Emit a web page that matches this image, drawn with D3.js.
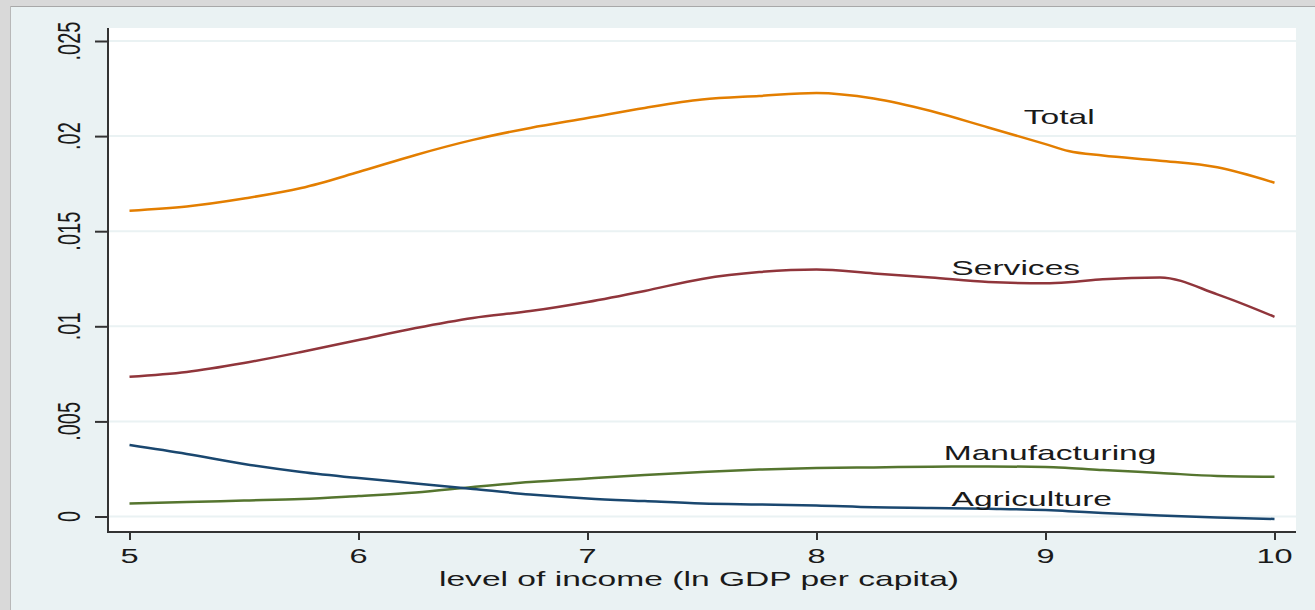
<!DOCTYPE html>
<html>
<head>
<meta charset="utf-8">
<script src="https://cdn.jsdelivr.net/npm/d3@7"></script>
<style>
    body { margin: 0; padding: 0; background: #eaf2f3; }
    text { font-family: "Liberation Sans", Arial, sans-serif; fill: #1a1a1a; }
</style>
</head>
<body>
<div id="chart"></div>
<script>
'use strict';

// values (x = ln GDP per capita)
const incomeLevels = [5.0, 5.25, 5.5, 5.75, 6.0, 6.25, 6.5, 6.75, 7.0, 7.25, 7.5, 7.75, 8.0, 8.25, 8.5, 8.75, 9.0, 9.1, 9.25, 9.5, 9.75, 10.0];

const totalValues = [0.01608, 0.01630, 0.01672, 0.01727, 0.01811, 0.01901, 0.01980, 0.02043, 0.02095, 0.02148, 0.02192, 0.02211, 0.02227, 0.02198, 0.02132, 0.02045, 0.01958, 0.01922, 0.01898, 0.01871, 0.01836, 0.01755];
const servicesValues = [0.00735, 0.00760, 0.00807, 0.00865, 0.00928, 0.00991, 0.01044, 0.01080, 0.01128, 0.01186, 0.01249, 0.01285, 0.01299, 0.01278, 0.01257, 0.01233, 0.01226, 0.01231, 0.01248, 0.01257, 0.01168, 0.01050];
const manufacturingValues = [0.00069, 0.00076, 0.00084, 0.00092, 0.00108, 0.00126, 0.00155, 0.00181, 0.00200, 0.00218, 0.00234, 0.00247, 0.00255, 0.00258, 0.00262, 0.00263, 0.00260, 0.00255, 0.00244, 0.00229, 0.00213, 0.00209];
const agricultureValues = [0.00376, 0.00329, 0.00276, 0.00234, 0.00202, 0.00174, 0.00145, 0.00116, 0.00095, 0.00081, 0.00068, 0.00063, 0.00058, 0.00048, 0.00045, 0.00041, 0.00034, 0.00028, 0.00018, 0.00005, -0.00005, -0.00013];

const seriesNames = ['Total', 'Services', 'Manufacturing', 'Agriculture'];
const seriesColors = ['#e37e00', '#90353b', '#55752f', '#1a476f'];

// label positions (data coordinates)
const labelX = [9.06, 8.87, 9.02, 8.94];
const labelY = [0.0210, 0.01309, 0.00334, 0.00095];

const xTicks = [5, 6, 7, 8, 9, 10];
const yTicks = [0, 0.005, 0.01, 0.015, 0.02, 0.025];
const yTickLabels = ['0', '.005', '.01', '.015', '.02', '.025'];
const xTitle = 'level of income (ln GDP per capita)';

const width = 1315, height = 610;
const plot = { left: 108, right: 1296, top: 28, bottom: 532 };
const stretch = 1.6; // the original text is wider than plain Arial

let svg = d3.select('#chart').append('svg')
    .attr('width', width)
    .attr('height', height);

// window frame
svg.append('rect').attr('x', 0).attr('y', 0).attr('width', width).attr('height', height).style('fill', '#eaf2f3');
svg.append('rect').attr('x', 0).attr('y', 0).attr('width', width).attr('height', 6).style('fill', '#d9d9d9');
svg.append('rect').attr('x', 0).attr('y', 0).attr('width', 10).attr('height', height).style('fill', '#d9d9d9');
svg.append('line').attr('x1', 10).attr('x2', width).attr('y1', 6.5).attr('y2', 6.5).style('stroke', '#a8a8a8').style('stroke-width', 1);
svg.append('line').attr('x1', 10.5).attr('x2', 10.5).attr('y1', 6).attr('y2', height).style('stroke', '#b8b8b8').style('stroke-width', 1);

// plot region
svg.append('rect')
    .attr('x', plot.left).attr('y', plot.top)
    .attr('width', plot.right - plot.left).attr('height', plot.bottom - plot.top)
    .style('fill', '#ffffff');

let x = d3.scaleLinear().domain([5, 10]).range([129.5, 1274.5]);
let y = d3.scaleLinear().domain([0, 0.025]).range([516.5, 41]);

// grid lines
svg.selectAll('.grid').data(yTicks).enter().append('line')
    .attr('class', 'grid')
    .attr('x1', plot.left).attr('x2', plot.right)
    .attr('y1', function (d) { return y(d); })
    .attr('y2', function (d) { return y(d); })
    .style('stroke', '#eaf2f3')
    .style('stroke-width', 2);

// y axis
let yAxis = d3.axisLeft(y).tickValues(yTicks).tickSize(13).tickFormat('');
let yAxisG = svg.append('g').attr('transform', 'translate(' + plot.left + ',0)').call(yAxis);
yAxisG.select('.domain').remove();
yAxisG.selectAll('.tick line').style('stroke', '#333').style('stroke-width', 2);
svg.append('line')
    .attr('x1', plot.left).attr('x2', plot.left)
    .attr('y1', plot.top).attr('y2', plot.bottom + 1)
    .style('stroke', '#333').style('stroke-width', 2);

svg.selectAll('.y-label').data(yTicks).enter().append('text')
    .attr('class', 'y-label')
    .attr('transform', function (d) { return 'translate(80,' + y(d) + ') scale(1.55,1) rotate(-90)'; })
    .style('text-anchor', 'middle')
    .style('font-size', '20px')
    .text(function (d, i) { return yTickLabels[i]; });

// x axis
let xAxis = d3.axisBottom(x).tickValues(xTicks).tickSize(8).tickFormat('');
let xAxisG = svg.append('g').attr('transform', 'translate(0,' + plot.bottom + ')').call(xAxis);
xAxisG.select('.domain').remove();
xAxisG.selectAll('.tick line').style('stroke', '#333').style('stroke-width', 2);
svg.append('line')
    .attr('x1', plot.left - 1).attr('x2', plot.right)
    .attr('y1', plot.bottom).attr('y2', plot.bottom)
    .style('stroke', '#333').style('stroke-width', 2);

svg.selectAll('.x-label').data(xTicks).enter().append('text')
    .attr('class', 'x-label')
    .attr('transform', function (d) { return 'translate(' + x(d) + ',563) scale(1.55,1)'; })
    .style('text-anchor', 'middle')
    .style('font-size', '21px')
    .text(function (d) { return d; });

svg.append('text')
    .attr('transform', 'translate(699,586) scale(' + stretch + ',1)')
    .style('text-anchor', 'middle')
    .style('font-size', '21px')
    .text(xTitle);

// curves
let series = [totalValues, servicesValues, manufacturingValues, agricultureValues];

let line = d3.line()
    .x(function (d, i) { return x(incomeLevels[i]); })
    .y(function (d) { return y(d); })
    .curve(d3.curveMonotoneX);

svg.selectAll('.curve').data(series).enter().append('path')
    .attr('class', 'curve')
    .attr('d', function (d) { return line(d); })
    .style('fill', 'none')
    .style('stroke', function (d, i) { return seriesColors[i]; })
    .style('stroke-width', 2.5);

svg.selectAll('.series-label').data(seriesNames).enter().append('text')
    .attr('class', 'series-label')
    .attr('transform', function (d, i) { return 'translate(' + x(labelX[i]) + ',' + y(labelY[i]) + ') scale(' + stretch + ',1)'; })
    .attr('dy', '0.35em')
    .style('text-anchor', 'middle')
    .style('font-size', '21px')
    .text(function (d) { return d; });
</script>
</body>
</html>
